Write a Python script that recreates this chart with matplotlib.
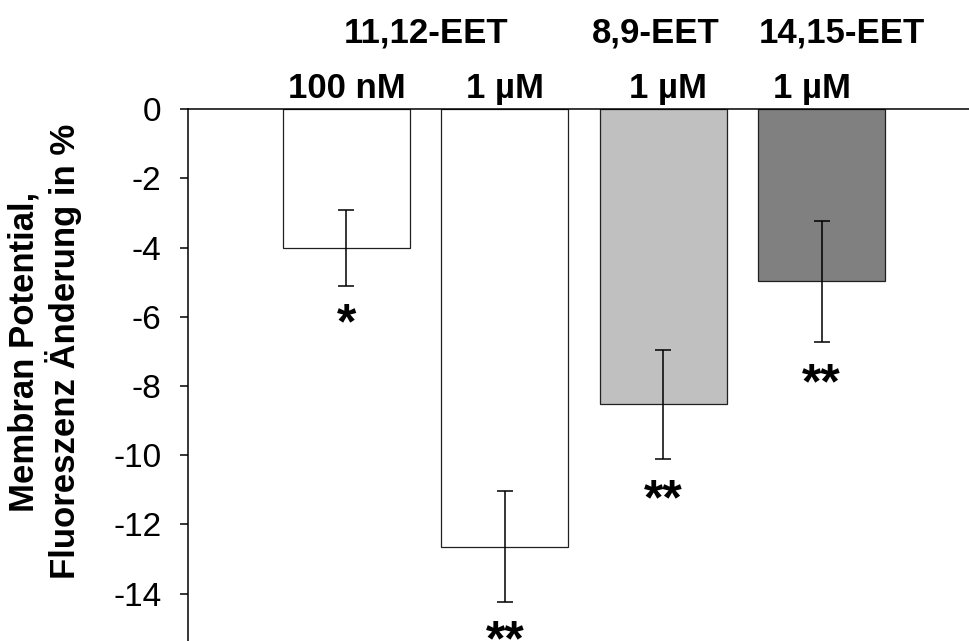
import matplotlib
matplotlib.use("Agg")
import matplotlib.pyplot as plt
import matplotlib.transforms as mtransforms

plt.rcParams['font.family'] = ['Liberation Sans', 'DejaVu Sans']

# data
groups = ["11,12-EET", "8,9-EET", "14,15-EET"]
group_x = [0.5, 1.95, 3.13]
doses = ["100 nM", "1 µM", "1 µM", "1 µM"]
dose_x = [0.0, 1.0, 2.03, 2.94]
values = [-4.0, -12.64, -8.53, -4.97]
errors = [1.1, 1.6, 1.57, 1.75]
stars = ["*", "**", "**", "**"]
star_y = [-6.62, -15.78, -11.7, -8.35]
colors = ["white", "white", "#c0c0c0", "#808080"]
yticks = [0, -2, -4, -6, -8, -10, -12, -14]

fig = plt.figure(figsize=(9.69, 6.41), dpi=100)
ax = fig.add_axes([188/969, 0.0, 1 - 188/969, 1 - 109.3/641])

x = list(range(len(values)))
ax.bar(x, values, width=0.8, color=colors, edgecolor="#202020", linewidth=0.9, zorder=2)
ax.errorbar(x, values, yerr=errors, fmt="none", ecolor="black",
            elinewidth=1.1, capsize=6, capthick=1.1, zorder=3)

ax.set_xlim(-1.0, 3.93)
ax.set_ylim(-15.37, 0)

ax.spines['right'].set_visible(False)
ax.spines['bottom'].set_visible(False)
ax.spines['top'].set_linewidth(1.1)
ax.spines['left'].set_linewidth(1.1)
ax.set_xticks([])
ax.set_yticks(yticks)
ax.set_yticklabels([str(t) for t in yticks])
ax.tick_params(axis='y', direction='out', length=6, width=1.1, labelsize=24, pad=13)

# significance marks under the error bars
for xi, s, sy in zip(x, stars, star_y):
    ax.text(xi, sy, s, ha='center', va='baseline', fontsize=36,
            fontweight='bold', clip_on=False)

trans = mtransforms.blended_transform_factory(ax.transData, fig.transFigure)
for gx, g in zip(group_x, groups):
    ax.text(gx, 1 - 43/641, g, transform=trans, ha='center', va='baseline',
            fontsize=25, fontweight='bold')
for dx, d in zip(dose_x, doses):
    ax.text(dx, 1 - 98/641, d, transform=trans, ha='center', va='baseline',
            fontsize=25, fontweight='bold')

fig.text(45/969, 1 - 351.5/641, "Membran Potential,\nFluoreszenz Änderung in %",
         rotation=90, ha='center', va='center', multialignment='center',
         fontsize=25, fontweight='bold', linespacing=1.15)

fig.savefig("out.png", dpi=100)
